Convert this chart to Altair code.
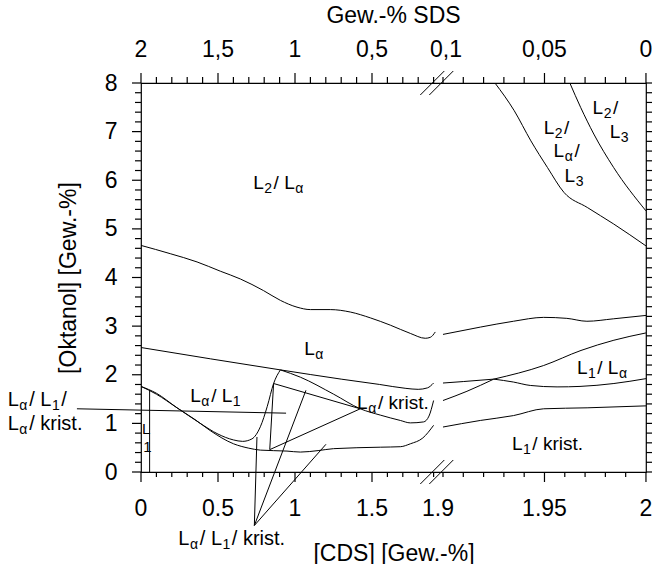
import altair as alt
import pandas as pd

FONT = "Liberation Sans"
W, H = 505, 389
PX = 154.0                      # px per CDS unit on the left segment
UMAX = W / PX
U_EXPR = "(datum.seg == 'R' ? 1.961 + (datum.cds - 1.9) * 13.18 : datum.cds)"

# ---------------- phase boundaries (CDS wt-%, octanol wt-%) ----------------
U_L_X = [0.0, 0.19, 0.364, 0.515, 0.645, 0.796, 0.905, 1.013, 1.10, 1.229, 1.359, 1.489, 1.619, 1.749, 1.846, 1.879, 1.911]
U_L_Y = [4.66, 4.49, 4.32, 4.13, 3.97, 3.73, 3.53, 3.39, 3.34, 3.34, 3.29, 3.17, 3.02, 2.85, 2.75, 2.77, 2.88]
U_R_X = [1.9, 1.9184, 1.9347, 1.9496, 1.961, 1.9709, 1.9839, 2.0]
U_R_Y = [2.83, 2.98, 3.10, 3.18, 3.16, 3.10, 3.15, 3.22]

A_L_X = [0.0, 0.905, 1.3, 1.55, 1.72, 1.8, 1.86, 1.9]
A_L_Y = [2.56, 2.10, 1.91, 1.80, 1.72, 1.70, 1.73, 1.83]
A_R_X = [1.9, 1.91, 1.925]
A_R_Y = [1.83, 1.86, 1.91]

B_R_X = [1.925, 1.9496, 1.968, 1.9842, 2.0]
B_R_Y = [1.91, 2.19, 2.50, 2.71, 2.86]
C_R_X = [1.9, 1.9118, 1.925]
C_R_Y = [1.47, 1.66, 1.91]
D_R_X = [1.925, 1.9347, 1.943, 1.9562, 1.9675, 1.9842, 2.0]
D_R_Y = [1.91, 1.85, 1.78, 1.75, 1.76, 1.82, 1.92]

K_L_X = [0.905, 1.035, 1.251, 1.424, 1.554, 1.684, 1.749, 1.835, 1.87, 1.9]
K_L_Y = [2.10, 1.95, 1.60, 1.30, 1.17, 1.06, 1.01, 1.03, 1.15, 1.47]

IN_L_X = [0.0, 0.1, 0.234, 0.385, 0.5, 0.6, 0.66, 0.72, 0.775, 0.82, 0.861, 0.905]
IN_L_Y = [1.76, 1.60, 1.32, 1.00, 0.78, 0.66, 0.63, 0.68, 0.93, 1.35, 1.82, 2.10]

LO_L_X = [0.0, 0.1, 0.234, 0.35, 0.45, 0.601, 0.7, 0.775, 0.948, 1.035, 1.15, 1.25, 1.554, 1.684, 1.749, 1.83, 1.9]
LO_L_Y = [1.76, 1.62, 1.32, 1.08, 0.85, 0.58, 0.49, 0.45, 0.43, 0.41, 0.44, 0.48, 0.51, 0.52, 0.58, 0.70, 0.96]
LO_R_X = [1.9, 1.9184, 1.9347, 1.9496, 1.971, 2.0]
LO_R_Y = [0.925, 1.06, 1.16, 1.30, 1.32, 1.36]

G_R_X = [1.9256, 1.9351, 1.9433, 1.9515, 1.9596, 1.9711, 1.9841, 2.0]
G_R_Y = [8.0, 7.43, 6.81, 6.26, 5.75, 5.44, 5.10, 4.65]
H_R_X = [1.9625, 1.9678, 1.9743, 1.9841, 2.0]
H_R_Y = [8.0, 7.50, 6.95, 6.26, 5.37]

CURVES = [
    ("U_L", "L", U_L_X, U_L_Y), ("U_R", "R", U_R_X, U_R_Y),
    ("A_L", "L", A_L_X, A_L_Y), ("A_R", "R", A_R_X, A_R_Y),
    ("B_R", "R", B_R_X, B_R_Y), ("C_R", "R", C_R_X, C_R_Y), ("D_R", "R", D_R_X, D_R_Y),
    ("K_L", "L", K_L_X, K_L_Y), ("IN_L", "L", IN_L_X, IN_L_Y),
    ("LO_L", "L", LO_L_X, LO_L_Y), ("LO_R", "R", LO_R_X, LO_R_Y),
    ("G_R", "R", G_R_X, G_R_Y), ("H_R", "R", H_R_X, H_R_Y),
]

# straight segments: tie-line triangle, L1 border, leader lines (x1, y1, x2, y2)
SEG_X1 = [0.861, 0.861, 0.836, 0.056, -0.416, 0.736, 0.736, 0.736]
SEG_Y1 = [1.82, 1.82, 0.46, 0.0, 1.30, -1.10, -1.10, -1.10]
SEG_X2 = [0.836, 1.424, 1.424, 0.056, 0.942, 0.753, 1.071, 1.201]
SEG_Y2 = [0.46, 1.30, 1.30, 1.68, 1.21, 0.72, 1.68, 0.57]

# axis break marks (display units)
BRK_U1 = [1.8136, 1.8721, 1.8136, 1.8721]
BRK_U2 = [1.9695, 2.0279, 1.9695, 2.0279]
BRK_Y1 = [-0.247, -0.247, 7.753, 7.753]
BRK_Y2 = [0.247, 0.247, 8.247, 8.247]

# ticks
TICK_POS = [(0.0, "L"), (0.5, "L"), (1.0, "L"), (1.5, "L"), (1.9, "R"), (1.95, "R"), (2.0, "R")]
BOTTOM_LABELS = ["0", "0.5", "1", "1.5", "1.9", "1.95", "2"]
BOTTOM_OFF = [0, 0, 0, 0, -5, 0, 0]
TOP_LABELS = ["2", "1,5", "1", "0,5", "0,1", "0,05", "0"]
TOP_OFF = [0, 0, 0, 0, 3, 0, 0]
X_MAJOR = [(0.0, "L"), (0.5, "L"), (1.0, "L"), (1.5, "L"), (1.95, "R"), (2.0, "R")]
X_MINOR = [(round(0.1 * i, 2), "L") for i in range(1, 20) if i % 5 != 0] + \
          [(round(1.9 + 0.01 * i, 3), "R") for i in range(0, 10) if i != 5]
Y_LABELS = [0, 1, 2, 3, 4, 5, 6, 7, 8]
Y_MINOR = [round(0.2 * i, 2) for i in range(0, 41) if i % 5 != 0]
Y_ALL = [round(0.2 * i, 2) for i in range(0, 41)]

# region labels: markup ("_" = subscript next char), cds, segment, octanol, style
ANNOT = [
    ("L_2/ L_α", 0.729, "L", 5.81, "region"),
    ("L_α", 1.06, "L", 2.40, "region"),
    ("L_α/ L_1", 0.32, "L", 1.44, "region"),
    ("L_α/ krist.", 1.403, "L", 1.30, "region"),
    ("L_1/ L_α", 1.966, "R", 2.01, "region"),
    ("L_1/ krist.", 1.934, "R", 0.46, "region"),
    ("L_2/", 1.9496, "R", 6.96, "region"),
    ("L_α/", 1.9545, "R", 6.47, "region"),
    ("L_3", 1.9599, "R", 5.96, "region"),
    ("L_2/", 1.9737, "R", 7.37, "region"),
    ("L_3", 1.9821, "R", 6.87, "region"),
    ("L", 0.0065, "L", 0.79, "tiny"),
    ("1", 0.015, "L", 0.41, "tiny"),
    ("L_α/ L_1/", -0.866, "L", 1.35, "outer"),
    ("L_α/ krist.", -0.866, "L", 0.86, "outer"),
    ("L_α/ L_1/ krist.", 0.242, "L", -1.50, "outer"),
]
STYLE = {"region": (19, 14), "tiny": (15, 13), "outer": (20, 14)}
CW = {"L": 556, "α": 600, "/": 278, " ": 278, "1": 556, "2": 556, "3": 556,
      "k": 500, "r": 333, "i": 222, "s": 500, "t": 278, ".": 278}

# ---------------- tables ----------------
curve_rows = []
for name, seg, xs, ys in CURVES:
    for i, (x, y) in enumerate(zip(xs, ys)):
        curve_rows.append(dict(curve=name, seg=seg, cds=x, y=y, i=i))
curve_df = pd.DataFrame(curve_rows)

seg_df = pd.DataFrame(dict(x1=SEG_X1, y=SEG_Y1, x2=SEG_X2, y2=SEG_Y2))
brk_df = pd.DataFrame(dict(u=BRK_U1, y=BRK_Y1, u2=BRK_U2, y2=BRK_Y2))

piece_rows = []
for markup, cds, seg, y, style in ANNOT:
    fn, fsub = STYLE[style]
    pieces, k = [], 0
    while k < len(markup):
        if markup[k] == "_":
            pieces.append((markup[k + 1], 1)); k += 2
        else:
            j = k
            while j < len(markup) and markup[j] != "_":
                j += 1
            pieces.append((markup[k:j], 0)); k = j
    off = 0.0
    for text, sub in pieces:
        size = fsub if sub else fn
        piece_rows.append(dict(cds=cds, seg=seg, y=y, off=off, text=text, sub=sub, fs=size))
        off += sum(CW.get(c, 556) for c in text) * size / 1000.0 + (1.5 if sub else 0.5)
piece_df = pd.DataFrame(piece_rows)

lab_df = pd.DataFrame(dict(cds=[p[0] for p in TICK_POS], seg=[p[1] for p in TICK_POS],
                           bot=BOTTOM_LABELS, top=TOP_LABELS, boff=BOTTOM_OFF, toff=TOP_OFF))
xmaj_df = pd.DataFrame(dict(cds=[p[0] for p in X_MAJOR], seg=[p[1] for p in X_MAJOR]))
xmin_df = pd.DataFrame(dict(cds=[p[0] for p in X_MINOR], seg=[p[1] for p in X_MINOR]))
ymaj_df = pd.DataFrame(dict(y=Y_LABELS))
ymin_df = pd.DataFrame(dict(y=Y_MINOR))
yall_df = pd.DataFrame(dict(y=Y_ALL))

# ---------------- encodings ----------------
xscale = alt.Scale(domain=[0, UMAX], nice=False, zero=False)
yscale = alt.Scale(domain=[0, 8], nice=False, zero=False)
X = alt.X("u:Q", scale=xscale,
          axis=alt.Axis(labels=False, ticks=False, domain=False, grid=False, tickSize=0,
                        title="[CDS] [Gew.-%]", titleFont=FONT, titleFontSize=23,
                        titleFontWeight="normal", titleColor="black",
                        titleY=88, titleBaseline="alphabetic"))
Y = alt.Y("y:Q", scale=yscale,
          axis=alt.Axis(values=Y_LABELS, ticks=False, tickSize=0, domain=False, grid=False,
                        labelFont=FONT, labelFontSize=23, labelColor="black", labelPadding=24,
                        title="[Oktanol] [Gew.-%]", titleFont=FONT, titleFontSize=23,
                        titleFontWeight="normal", titleColor="black", titleAngle=270,
                        titleX=-66, titleY=H / 2, titleBaseline="alphabetic", titleAlign="center"))

base_text = dict(font=FONT, color="black")

lines = alt.Chart(curve_df).transform_calculate(u=U_EXPR).mark_line(
    color="black", strokeWidth=1, interpolate="monotone").encode(
    x=X, y=Y, detail="curve:N", order="i:Q")

segs = alt.Chart(seg_df).transform_calculate(u="datum.x1", u2="datum.x2").mark_rule(
    color="black", strokeWidth=1).encode(x=X, y=Y, x2="u2:Q", y2="y2:Q")

breaks = alt.Chart(brk_df).mark_rule(color="black", strokeWidth=1).encode(
    x=X, y=Y, x2="u2:Q", y2="y2:Q")

txt_norm = alt.Chart(piece_df).transform_calculate(
    u=U_EXPR + " + datum.off / 154").transform_filter("datum.sub == 0").mark_text(
    align="left", baseline="alphabetic", **base_text).encode(
    x=X, y=Y, text="text:N", size=alt.Size("fs:Q", scale=None))
txt_sub = alt.Chart(piece_df).transform_calculate(
    u=U_EXPR + " + datum.off / 154").transform_filter("datum.sub == 1").mark_text(
    align="left", baseline="alphabetic", dy=4, **base_text).encode(
    x=X, y=Y, text="text:N", size=alt.Size("fs:Q", scale=None))

bot_labels = alt.Chart(lab_df).transform_calculate(
    u="(datum.seg == 'R' ? 1.961 + (datum.cds - 1.9) * 13.18 : datum.cds) + datum.boff / 154"
).mark_text(fontSize=23, baseline="middle", align="center", **base_text).encode(
    x=X, y=alt.value(H + 37), text="bot:N")
top_labels = alt.Chart(lab_df).transform_calculate(
    u="(datum.seg == 'R' ? 1.961 + (datum.cds - 1.9) * 13.18 : datum.cds) + datum.toff / 154"
).mark_text(fontSize=23, baseline="middle", align="center", **base_text).encode(
    x=X, y=alt.value(-33), text="top:N")
top_title = alt.Chart(pd.DataFrame(dict(t=["Gew.-% SDS"]))).mark_text(
    fontSize=23, baseline="middle", align="center", **base_text).encode(
    x=alt.value(W / 2), y=alt.value(-67), text="t:N")

TW = 1.2
bmaj = alt.Chart(xmaj_df).transform_calculate(u=U_EXPR).mark_rule(color="black", strokeWidth=TW).encode(
    x=X, y=alt.value(H), y2=alt.value(H + 10))
bmin = alt.Chart(xmin_df).transform_calculate(u=U_EXPR).mark_rule(color="black", strokeWidth=TW).encode(
    x=X, y=alt.value(H), y2=alt.value(H + 5))
tmaj = alt.Chart(xmaj_df).transform_calculate(u=U_EXPR).mark_rule(color="black", strokeWidth=TW).encode(
    x=X, y=alt.value(0), y2=alt.value(-10))
tmin = alt.Chart(xmin_df).transform_calculate(u=U_EXPR).mark_rule(color="black", strokeWidth=TW).encode(
    x=X, y=alt.value(0), y2=alt.value(-6))
lmaj = alt.Chart(ymaj_df).mark_rule(color="black", strokeWidth=TW).encode(
    y=Y, x=alt.value(0), x2=alt.value(-9))
lmin = alt.Chart(ymin_df).mark_rule(color="black", strokeWidth=TW).encode(
    y=Y, x=alt.value(0), x2=alt.value(-6))
rall = alt.Chart(yall_df).mark_rule(color="black", strokeWidth=TW).encode(
    y=Y, x=alt.value(W), x2=alt.value(W + 6))

chart = alt.layer(
    lines, segs, breaks, txt_norm, txt_sub, bot_labels, top_labels, top_title,
    bmaj, bmin, tmaj, tmin, lmaj, lmin, rall
).properties(
    width=W, height=H,
    autosize=alt.AutoSizeParams(type="none"),
    padding={"left": 141, "top": 83, "right": 6, "bottom": 92},
    background="white",
).configure_view(stroke="black", strokeWidth=1.2)

chart.save("out.html", embed_options={"renderer": "svg", "actions": False})
